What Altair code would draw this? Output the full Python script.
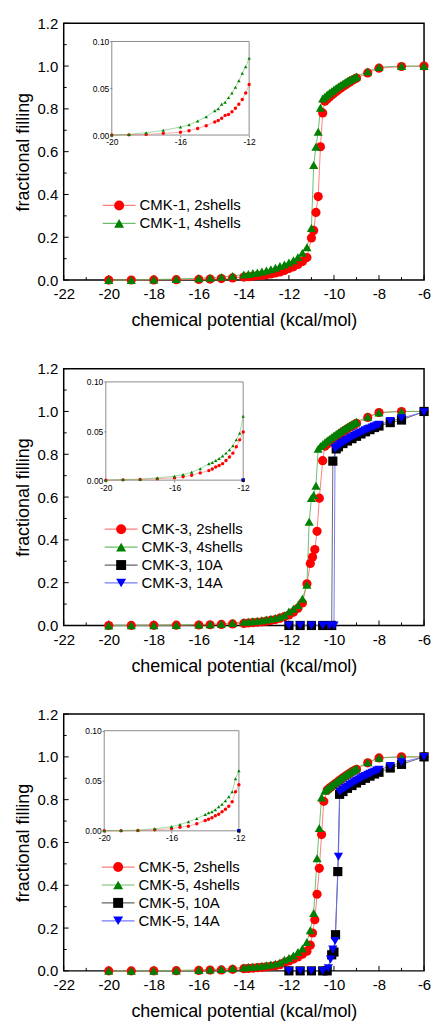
import altair as alt
import pandas as pd

FONT = "Liberation Sans"

# ---------------- data ----------------
LOW_X = [-20, -19, -18, -17, -16, -15.5, -15, -14.5, -14, -13.8, -13.6, -13.4, -13.2, -13,
         -12.8, -12.6, -12.4, -12.2, -12, -11.8, -11.6, -11.4, -11.2]

# panel 1 : CMK-1
P1_X = LOW_X + [-11.0, -10.9, -10.8, -10.7, -10.6, -10.5, -10.4, -10.3, -10.2, -10.1, -10.0,
                -9.9, -9.8, -9.7, -9.6, -9.5, -9.4, -9.3, -9.2, -9.1, -9.0, -8.5, -8, -7, -6]
P1_2SH = [0.0, 0.0002, 0.0007, 0.0018, 0.003, 0.0046, 0.007, 0.010,
          0.014, 0.0155, 0.018, 0.021, 0.022, 0.025, 0.0286, 0.033, 0.038, 0.045, 0.054,
          0.062, 0.073, 0.087, 0.105,
          0.197, 0.232, 0.316, 0.39, 0.623, 0.781, 0.836, 0.846, 0.856, 0.865, 0.873,
          0.881, 0.889, 0.897, 0.905, 0.912, 0.919, 0.926, 0.932, 0.938, 0.944,
          0.968, 0.99, 0.998, 1.0]
P1_4SH = [0.0, 0.0007, 0.0025, 0.005, 0.0085, 0.011, 0.015, 0.0195,
          0.026, 0.028, 0.033, 0.035, 0.040, 0.045, 0.051, 0.058, 0.066, 0.073, 0.082,
          0.093, 0.107, 0.127, 0.153,
          0.243, 0.538, 0.623, 0.693, 0.805, 0.848, 0.858, 0.867, 0.875, 0.883, 0.891,
          0.898, 0.905, 0.912, 0.918, 0.924, 0.93, 0.936, 0.941, 0.946, 0.951,
          0.975, 0.995, 1.0, 1.0]

# panel 2 : CMK-3
P2_2SH_X = LOW_X + [-11.05, -10.95, -10.85, -10.75, -10.65, -10.5,
                    -10.4, -10.3, -10.2, -10.1, -10.0, -9.9, -9.8, -9.7, -9.6, -9.5, -9.4,
                    -9.3, -9.2, -9.1, -9.0, -8.5, -8, -7, -6]
P2_2SH = [0.0, 0.0003, 0.0007, 0.0013, 0.0023, 0.0034, 0.005, 0.0074,
          0.0097, 0.0114, 0.0134, 0.015, 0.0168, 0.02, 0.0235, 0.0275, 0.034, 0.041, 0.049,
          0.062, 0.08, 0.105, 0.195,
          0.29, 0.32, 0.355, 0.44, 0.595, 0.77,
          0.838, 0.848, 0.857, 0.865, 0.873, 0.881, 0.889, 0.897, 0.905, 0.912, 0.919,
          0.926, 0.932, 0.938, 0.945,
          0.972, 0.995, 1.0, 1.0]
P2_4SH_X = LOW_X + [-11.1, -11.0, -10.9, -10.8, -10.7,
                    -10.6, -10.5, -10.4, -10.3, -10.2, -10.1, -10.0, -9.9, -9.8, -9.7, -9.6,
                    -9.5, -9.4, -9.3, -9.2, -9.1, -9.0, -8.5, -8, -7, -6]
P2_4SH = [0.0, 0.0007, 0.001, 0.0023, 0.004, 0.0057, 0.008, 0.0117,
          0.0168, 0.018, 0.02, 0.022, 0.0245, 0.0275, 0.031, 0.035, 0.041, 0.0477, 0.065,
          0.078, 0.095, 0.125, 0.19,
          0.485, 0.595, 0.61, 0.653, 0.826,
          0.838, 0.847, 0.856, 0.864, 0.872, 0.88, 0.888, 0.895, 0.902, 0.909, 0.916,
          0.922, 0.928, 0.934, 0.94, 0.946, 0.952,
          0.975, 0.995, 1.0, 1.0]
P2_10A_X = [-12, -11.5, -11, -10.5, -10.1, -10.05, -9.9, -9.8, -9.6, -9.4, -9.2, -9.0,
            -8.8, -8.6, -8.4, -8.2, -8.0, -7.5, -7.0, -6.0]
P2_10A = [0, 0, 0, 0, 0, 0.768, 0.825, 0.835, 0.85, 0.862, 0.873, 0.884,
          0.895, 0.905, 0.915, 0.925, 0.932, 0.948, 0.96, 1.0]
P2_14A_X = [-12, -11.5, -11, -10.5, -10.2, -10.0, -9.95, -9.9, -9.8, -9.7, -9.6, -9.5, -9.4,
            -9.3, -9.2, -9.1, -9.0, -8.9, -8.8, -8.7, -8.6, -8.5, -8.4, -8.3, -8.2, -8.1,
            -8.0, -7.5, -7.0, -6.0]
P2_14A = [0, 0, 0, 0, 0, 0, 0.826, 0.832, 0.84, 0.848, 0.855, 0.862, 0.868,
          0.874, 0.88, 0.886, 0.892, 0.897, 0.902, 0.907, 0.912, 0.917, 0.921, 0.925, 0.93,
          0.934, 0.938, 0.955, 0.969, 0.997]

# panel 3 : CMK-5
P3_2SH_X = LOW_X + [-11.05, -10.95, -10.85, -10.75, -10.65, -10.55, -10.45,
                    -10.3, -10.2, -10.1, -10.0, -9.9, -9.8, -9.7, -9.6, -9.5, -9.4, -9.3,
                    -9.2, -9.1, -9.0, -8.5, -8, -7, -6]
P3_2SH = [0.0, 0.0, 0.0003, 0.001, 0.0023, 0.0036, 0.0046, 0.007,
          0.0103, 0.0116, 0.013, 0.015, 0.0166, 0.019, 0.0215, 0.0245, 0.029, 0.039, 0.046,
          0.055, 0.065, 0.078, 0.092,
          0.12, 0.177, 0.239, 0.358, 0.479, 0.637, 0.792,
          0.845, 0.854, 0.862, 0.87, 0.878, 0.886, 0.894, 0.902, 0.909, 0.916, 0.923,
          0.93, 0.936, 0.942,
          0.972, 0.995, 1.0, 1.0]
P3_4SH_X = LOW_X + [-11.05, -10.9, -10.75, -10.65, -10.55,
                    -10.4, -10.3, -10.2, -10.1, -10.0, -9.9, -9.8, -9.7, -9.6, -9.5, -9.4,
                    -9.3, -9.2, -9.1, -9.0, -8.5, -8, -7, -6]
P3_4SH = [0.0, 0.0003, 0.0007, 0.002, 0.0043, 0.0063, 0.009, 0.0123,
          0.0162, 0.018, 0.019, 0.021, 0.024, 0.0265, 0.03, 0.034, 0.039, 0.052, 0.060,
          0.072, 0.088, 0.105, 0.135,
          0.19, 0.27, 0.526, 0.668, 0.81,
          0.842, 0.851, 0.86, 0.868, 0.876, 0.884, 0.892, 0.9, 0.907, 0.914, 0.921,
          0.928, 0.934, 0.94, 0.947,
          0.975, 0.996, 1.0, 1.0]
P3_10A_X = [-12, -11.5, -11, -10.5, -10.3, -10.1, -10.0, -9.93, -9.83, -9.75, -9.6, -9.4,
            -9.2, -9.0, -8.8, -8.6, -8.4, -8.2, -8.0, -7.5, -7.0, -6.0]
P3_10A = [0, 0, 0, 0, 0, 0.075, 0.088, 0.169, 0.464, 0.825, 0.838, 0.853,
          0.866, 0.878, 0.89, 0.9, 0.91, 0.92, 0.928, 0.948, 0.965, 1.0]
P3_14A_X = [-12, -11.5, -11, -10.5, -10.25, -10.15, -10.05, -9.95, -9.8, -9.74, -9.6, -9.5,
            -9.4, -9.3, -9.2, -9.1, -9.0, -8.9, -8.8, -8.7, -8.6, -8.5, -8.4, -8.3, -8.2,
            -8.1, -8.0, -7.5, -7.0, -6.0]
P3_14A = [0, 0, 0, 0, 0.012, 0.053, 0.1, 0.14, 0.533, 0.837, 0.848, 0.855,
          0.862, 0.869, 0.876, 0.882, 0.888, 0.894, 0.9, 0.906, 0.911, 0.916, 0.921, 0.926,
          0.931, 0.936, 0.94, 0.957, 0.975, 1.0]

# ---------------- axes / style ----------------
X_DOMAIN = [-22, -6]
Y_DOMAIN = [0, 1.2]
X_MAJOR = [-22, -20, -18, -16, -14, -12, -10, -8, -6]
X_MINOR = [-21, -19, -17, -15, -13, -11, -9, -7]
Y_MAJOR = [0, 0.2, 0.4, 0.6, 0.8, 1.0, 1.2]
Y_MINOR = [0.1, 0.3, 0.5, 0.7, 0.9, 1.1]
INSET_X_DOMAIN = [-20, -12]
INSET_Y_DOMAIN = [0, 0.1]
INSET_X_TICKS = [-20, -16, -12]
INSET_Y_TICKS = [0, 0.05, 0.1]

POINT_COLORS = ["#ff0000", "#008000", "#000000", "#0000ff"]
LINE_COLORS = ["#ff7070", "#5cb85c", "#555555", "#6a6aff"]
SHAPES = ["circle", "triangle-up", "square", "triangle-down"]

W = 362
PANEL_H = 258
GAP = 89
MAJOR_TICK_PX = 5
MINOR_TICK_PX = 3

# inset (left, right, bottom, top) and legend (x, y) in each panel's own plot coordinates
PANELS = [
    dict(names=["CMK-1, 2shells", "CMK-1, 4shells"],
         data=[(P1_X, P1_2SH), (P1_X, P1_4SH)],
         inset=(48.3, 186.3, 112.3, 18.3), legend=(48.2, 175.5)),
    dict(names=["CMK-3, 2shells", "CMK-3, 4shells", "CMK-3, 10A", "CMK-3, 14A"],
         data=[(P2_2SH_X, P2_2SH), (P2_4SH_X, P2_4SH), (P2_10A_X, P2_10A), (P2_14A_X, P2_14A)],
         inset=(42.3, 180.3, 112.0, 13.3), legend=(50.2, 153.8)),
    dict(names=["CMK-5, 2shells", "CMK-5, 4shells", "CMK-5, 10A", "CMK-5, 14A"],
         data=[(P3_2SH_X, P3_2SH), (P3_4SH_X, P3_4SH), (P3_10A_X, P3_10A), (P3_14A_X, P3_14A)],
         inset=(40.7, 176.0, 117.3, 16.7), legend=(47.2, 146.2)),
]


def tick_table():
    """Inward tick segments, built from the tick arrays."""
    x0, x1 = X_DOMAIN
    y0, y1 = Y_DOMAIN
    xu = (x1 - x0) / W
    yu = (y1 - y0) / PANEL_H
    rows = []
    for vals, px in ((X_MAJOR, MAJOR_TICK_PX), (X_MINOR, MINOR_TICK_PX)):
        for v in vals:
            rows.append({"seg": "tx%s" % v, "o": 0, "x": v, "y": y0})
            rows.append({"seg": "tx%s" % v, "o": 1, "x": v, "y": y0 + px * yu})
    for vals, px in ((Y_MAJOR, MAJOR_TICK_PX), (Y_MINOR, MINOR_TICK_PX)):
        for v in vals:
            rows.append({"seg": "ty%s" % v, "o": 0, "x": x0, "y": v})
            rows.append({"seg": "ty%s" % v, "o": 1, "x": x0 + px * xu, "y": v})
    return pd.DataFrame(rows)


TICKS = tick_table()


def build_panel(spec):
    names = spec["names"]
    n = len(names)
    line_keys = ["L%d" % k for k in range(n)]
    rows = []
    for k, (name, (xs, ys)) in enumerate(zip(names, spec["data"])):
        for x, y in zip(xs, ys):
            rows.append({"x": x, "y": y, "s": name, "sl": line_keys[k]})
    df = pd.DataFrame(rows)

    def xscale():
        return alt.Scale(domain=X_DOMAIN, range=[0, W], nice=False, zero=False)

    def yscale():
        return alt.Scale(domain=Y_DOMAIN, range=[PANEL_H, 0], nice=False, zero=False)

    xaxis = alt.Axis(orient="bottom", values=X_MAJOR,
                     labelExpr="toString(datum.value)", ticks=False, domain=False, grid=False,
                     labelFontSize=15, labelPadding=7, labelFlush=False, labelOverlap=False,
                     titleFontSize=18, titleFontWeight="normal", titlePadding=10)
    yaxis = alt.Axis(orient="left", values=Y_MAJOR, format=".1f", ticks=False, domain=False,
                     grid=False, labelFontSize=15, labelPadding=6, labelFlush=False,
                     labelOverlap=False, titleFontSize=18, titleFontWeight="normal",
                     titlePadding=5)
    X = alt.X("x:Q", scale=xscale(), axis=xaxis, title="chemical potential (kcal/mol)")
    Y = alt.Y("y:Q", scale=yscale(), axis=yaxis, title="fractional filling")

    lx, ly = spec["legend"]
    leg_line = alt.Legend(orient="none", legendX=lx, legendY=ly, title=None,
                          symbolType="M-3.3,0L3.3,0", symbolSize=100, symbolStrokeWidth=1.2,
                          labelFontSize=15, labelOffset=13, rowPadding=2, padding=0,
                          labelExpr="' '", labelOpacity=0)
    leg_pts = alt.Legend(orient="none", legendX=lx, legendY=ly, title=None,
                         symbolSize=100, symbolStrokeWidth=0, labelFontSize=15,
                         labelOffset=13, rowPadding=2, padding=0, labelColor="black")

    ticks = alt.Chart(TICKS).mark_line(color="#000000", strokeWidth=1).encode(
        x=X, y=Y, detail="seg:N", order="o:Q")
    lines = alt.Chart(df).mark_line(strokeWidth=1, opacity=0.9).encode(
        x=X, y=Y,
        stroke=alt.Stroke("sl:N", scale=alt.Scale(domain=line_keys, range=LINE_COLORS[:n]),
                          legend=leg_line))
    pts = alt.Chart(df).mark_point(filled=True, size=85, opacity=1, strokeWidth=0).encode(
        x=X, y=Y,
        fill=alt.Fill("s:N", scale=alt.Scale(domain=names, range=POINT_COLORS[:n]),
                      legend=leg_pts),
        shape=alt.Shape("s:N", scale=alt.Scale(domain=names, range=SHAPES[:n]),
                        legend=leg_pts))
    main = alt.layer(ticks, lines, pts)

    # ---- inset ----
    L, R, B, T = spec["inset"]
    ixaxis = alt.Axis(orient="bottom", offset=B - PANEL_H, values=INSET_X_TICKS,
                      labelExpr="toString(datum.value)", tickSize=2, tickColor="#808080",
                      domain=False, grid=False, labelFontSize=8.5, labelPadding=1,
                      labelFlush=False, labelOverlap=False)
    iyaxis = alt.Axis(orient="left", offset=-L, values=INSET_Y_TICKS, format=".2f",
                      tickSize=2, tickColor="#808080", domain=False, grid=False,
                      labelFontSize=8.5, labelPadding=1, labelFlush=False, labelOverlap=False)
    IX = alt.X("x:Q", scale=alt.Scale(domain=INSET_X_DOMAIN, range=[L, R], nice=False, zero=False),
               axis=ixaxis, title=None)
    IY = alt.Y("y:Q", scale=alt.Scale(domain=INSET_Y_DOMAIN, range=[B, T], nice=False, zero=False),
               axis=iyaxis, title=None)

    ibox = alt.Chart(pd.DataFrame({"x": [INSET_X_DOMAIN[0]], "x2": [INSET_X_DOMAIN[1]],
                                   "y": [INSET_Y_DOMAIN[0]], "y2": [INSET_Y_DOMAIN[1]]})).mark_rect(
        fillOpacity=0, stroke="#8c8c8c", strokeWidth=1).encode(
        x=IX, x2="x2:Q", y=IY, y2="y2:Q")
    flt = (alt.datum.x >= INSET_X_DOMAIN[0]) & (alt.datum.x <= INSET_X_DOMAIN[1])
    ilines = alt.Chart(df).transform_filter(flt).mark_line(strokeWidth=0.8, opacity=0.7).encode(
        x=IX, y=IY,
        stroke=alt.Stroke("sl:N", scale=alt.Scale(domain=line_keys, range=LINE_COLORS[:n]),
                          legend=None))
    ipts = alt.Chart(df).transform_filter(flt).mark_point(filled=True, size=12, opacity=1,
                                                           strokeWidth=0).encode(
        x=IX, y=IY,
        fill=alt.Fill("s:N", scale=alt.Scale(domain=names, range=POINT_COLORS[:n]),
                      legend=None),
        shape=alt.Shape("s:N", scale=alt.Scale(domain=names, range=SHAPES[:n]),
                        legend=None))
    inset = alt.layer(ibox, ilines, ipts)

    return alt.layer(main, inset).resolve_scale(
        x="independent", y="independent", fill="independent", stroke="independent",
        shape="independent"
    ).properties(width=W, height=PANEL_H)


panels = [build_panel(spec) for spec in PANELS]

chart = alt.vconcat(*panels, spacing=GAP, bounds="flush").resolve_scale(
    x="independent", y="independent", fill="independent", stroke="independent",
    shape="independent"
).properties(
    padding={"left": 13, "top": 13, "right": 0, "bottom": 0},
).configure(font=FONT).configure_view(stroke="#000000", strokeWidth=1.5).configure_axis(
    labelFont=FONT, titleFont=FONT, labelColor="black", titleColor="black"
).configure_legend(labelFont=FONT)

chart.save("out.html", embed_options={"renderer": "svg", "actions": False})
